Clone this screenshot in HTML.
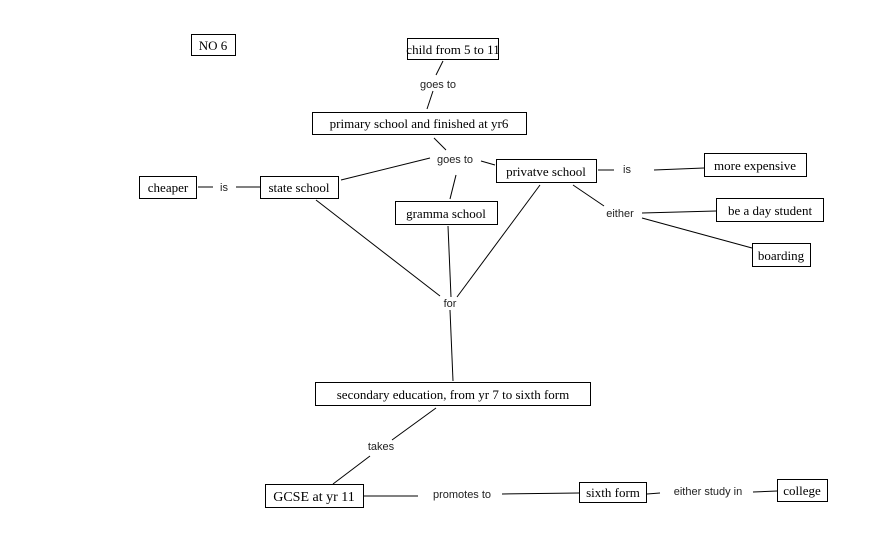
<!DOCTYPE html>
<html><head><meta charset="utf-8"><style>
body{margin:0;background:#fff;}
svg{display:block;}
.b{fill:#fff;stroke:#000;stroke-width:1;}
.t{font-family:"Liberation Serif",serif;font-size:13px;fill:#000;text-anchor:middle;}
.l{font-family:"Liberation Sans",sans-serif;font-size:11px;fill:#222;text-anchor:middle;}
line{stroke:#000;stroke-width:1;}
</style></head><body>
<svg width="869" height="549" viewBox="0 0 869 549" xmlns="http://www.w3.org/2000/svg">
<g>
<line x1="443" y1="61" x2="436" y2="75"/>
<line x1="433" y1="91" x2="427" y2="109"/>
<line x1="434" y1="138" x2="446" y2="150"/>
<line x1="430" y1="158" x2="341" y2="180"/>
<line x1="481" y1="161" x2="495" y2="165"/>
<line x1="456" y1="175" x2="450" y2="199"/>
<line x1="598" y1="170" x2="614" y2="170"/>
<line x1="654" y1="170" x2="704" y2="168"/>
<line x1="573" y1="185" x2="604" y2="206"/>
<line x1="642" y1="213" x2="716" y2="211"/>
<line x1="642" y1="218" x2="752" y2="248"/>
<line x1="198" y1="187" x2="213" y2="187"/>
<line x1="236" y1="187" x2="260" y2="187"/>
<line x1="316" y1="200" x2="440" y2="296"/>
<line x1="448" y1="226" x2="451" y2="297"/>
<line x1="540" y1="185" x2="457" y2="297"/>
<line x1="450" y1="310" x2="453" y2="381" stroke-width="1.5"/>
<line x1="436" y1="408" x2="392" y2="440"/>
<line x1="370" y1="456" x2="333" y2="484"/>
<line x1="364" y1="496" x2="418" y2="496"/>
<line x1="502" y1="494" x2="579" y2="493"/>
<line x1="647" y1="494" x2="660" y2="493"/>
<line x1="753" y1="492" x2="777" y2="491"/>
</g>
<rect class="b" x="191.5" y="34.5" width="44" height="21"/><text class="t" x="213" y="50">NO 6</text>
<rect class="b" x="407.5" y="38.5" width="91" height="21"/><text class="t" x="453" y="54">child from 5 to 11</text>
<rect class="b" x="312.5" y="112.5" width="214" height="22"/><text class="t" x="419" y="128">primary school and finished at yr6</text>
<rect class="b" x="496.5" y="159.5" width="100" height="23"/><text class="t" x="546" y="176">privatve school</text>
<rect class="b" x="704.5" y="153.5" width="102" height="23"/><text class="t" x="755" y="170">more expensive</text>
<rect class="b" x="716.5" y="198.5" width="107" height="23"/><text class="t" x="770" y="215">be a day student</text>
<rect class="b" x="752.5" y="243.5" width="58" height="23"/><text class="t" x="781" y="260">boarding</text>
<rect class="b" x="139.5" y="176.5" width="57" height="22"/><text class="t" x="168" y="192">cheaper</text>
<rect class="b" x="260.5" y="176.5" width="78" height="22"/><text class="t" x="299" y="192">state school</text>
<rect class="b" x="395.5" y="201.5" width="102" height="23"/><text class="t" x="446" y="218">gramma school</text>
<rect class="b" x="315.5" y="382.5" width="275" height="23"/><text class="t" x="453" y="399">secondary education, from yr 7 to sixth form</text>
<rect class="b" x="265.5" y="484.5" width="98" height="23"/><text class="t" x="314" y="501" style="font-size:14px">GCSE at yr 11</text>
<rect class="b" x="579.5" y="482.5" width="67" height="20"/><text class="t" x="613" y="497">sixth form</text>
<rect class="b" x="777.5" y="479.5" width="50" height="22"/><text class="t" x="802" y="495">college</text>
<text class="l" x="438" y="88">goes to</text>
<text class="l" x="455" y="163">goes to</text>
<text class="l" x="627" y="173">is</text>
<text class="l" x="620" y="217">either</text>
<text class="l" x="224" y="191">is</text>
<text class="l" x="450" y="307">for</text>
<text class="l" x="381" y="450">takes</text>
<text class="l" x="462" y="498">promotes to</text>
<text class="l" x="708" y="495">either study in</text>
</svg>
</body></html>
